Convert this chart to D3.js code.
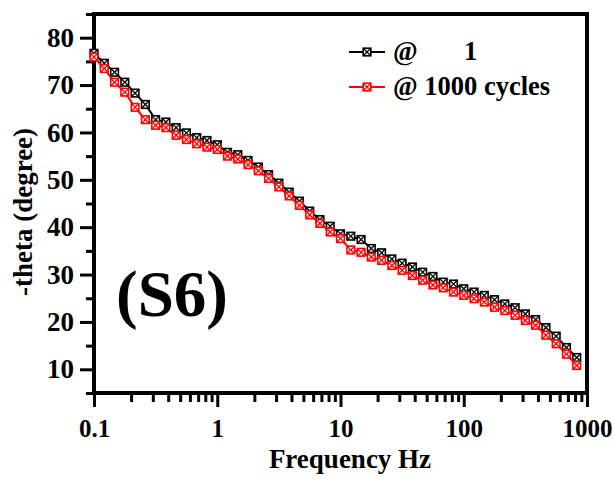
<!DOCTYPE html>
<html>
<head>
<meta charset="utf-8">
<script src="https://cdn.jsdelivr.net/npm/d3@7"></script>
<style>
  body { margin: 0; background: #fff; }
  text { font-family: "Liberation Serif", "Times New Roman", serif; font-weight: bold; }
</style>
</head>
<body>
<svg width="614" height="481"></svg>
<script>
// frequency (Hz), measured points
const frequency = [0.1, 0.1212, 0.1468, 0.1778, 0.2154, 0.261, 0.3162, 0.3831, 0.4642, 0.5623, 0.6813, 0.8254,
    1, 1.212, 1.468, 1.778, 2.154, 2.61, 3.162, 3.831, 4.642, 5.623, 6.813, 8.254,
    10, 12.12, 14.68, 17.78, 21.54, 26.1, 31.62, 38.31, 46.42, 56.23, 68.13, 82.54,
    100, 121.2, 146.8, 177.8, 215.4, 261, 316.2, 383.1, 464.2, 562.3, 681.3, 825.4]

// -theta at cycle 1
const theta1 = [76.7, 74.6, 72.7, 70.6, 68.3, 65.9, 62.7, 62.2, 61.0, 59.9, 58.9, 58.3,
    57.4, 55.8, 55.3, 54.1, 52.7, 51.1, 49.3, 47.4, 45.5, 43.4, 41.6, 40.2,
    38.6, 38.1, 37.4, 35.5, 34.6, 33.3, 32.4, 31.6, 30.5, 29.6, 28.4, 28.0,
    27.0, 26.3, 25.6, 24.7, 23.8, 23.0, 21.7, 20.5, 18.8, 17.0, 14.6, 12.5]

// -theta at cycle 1000
const theta1000 = [75.9, 73.5, 70.6, 68.5, 65.3, 62.7, 61.5, 61.0, 59.4, 58.5, 57.6, 56.9,
    56.4, 55.0, 54.4, 53.2, 51.9, 50.3, 48.5, 46.6, 44.6, 42.6, 40.8, 39.0,
    37.6, 35.2, 34.7, 33.7, 33.0, 31.9, 30.9, 29.8, 28.8, 27.8, 27.2, 26.3,
    25.6, 24.9, 24.2, 23.1, 22.4, 21.4, 20.3, 19.3, 17.2, 15.4, 13.2, 10.8]

const xMajor = [0.1, 1, 10, 100, 1000]
const xMajorLabels = ["0.1", "1", "10", "100", "1000"]
const yMajor = [10, 20, 30, 40, 50, 60, 70, 80]
const yMinor = [5, 15, 25, 35, 45, 55, 65, 75, 85]

const series = [
    { name: "@       1", values: theta1, color: "#000000" },
    { name: "@ 1000 cycles", values: theta1000, color: "#ff0000" }
]

const svg = d3.select('svg')
const plotLeft = 94, plotRight = 587, plotTop = 14, plotBottom = 393

const x = d3.scaleLog().domain([0.1, 1000]).range([plotLeft, plotRight])
const y = d3.scaleLinear().domain([5, 85]).range([plotBottom, plotTop])

// minor ticks for log axis: 2..9 of each decade
let xMinor = []
x.ticks().forEach(t => { if (!xMajor.some(m => Math.abs(m - t) < 1e-9)) xMinor.push(t) })

// x axis
svg.append('g')
    .attr('transform', `translate(0,${plotBottom})`)
    .call(d3.axisBottom(x).tickValues(xMinor).tickSize(9).tickFormat(''))
    .call(g => g.select('.domain').remove())
svg.append('g')
    .attr('class', 'xmajor')
    .attr('transform', `translate(0,${plotBottom})`)
    .call(d3.axisBottom(x).tickValues(xMajor).tickSize(14).tickPadding(12)
        .tickFormat((d, i) => xMajorLabels[i]))
    .call(g => g.select('.domain').remove())

// y axis
svg.append('g')
    .attr('transform', `translate(${plotLeft},0)`)
    .call(d3.axisLeft(y).tickValues(yMinor).tickSize(8).tickFormat(''))
    .call(g => g.select('.domain').remove())
svg.append('g')
    .attr('class', 'ymajor')
    .attr('transform', `translate(${plotLeft},0)`)
    .call(d3.axisLeft(y).tickValues(yMajor).tickSize(14).tickPadding(6))
    .call(g => g.select('.domain').remove())

svg.selectAll('.tick line').attr('stroke', '#000').attr('stroke-width', 3)
svg.selectAll('.tick text')
    .attr('fill', '#000')
    .style('font-family', '"Liberation Serif", serif')
    .style('font-weight', 'bold')
svg.selectAll('.xmajor .tick text').style('font-size', '25px')
svg.selectAll('.ymajor .tick text').style('font-size', '27px')

// frame
svg.append('rect')
    .attr('x', plotLeft).attr('y', plotTop)
    .attr('width', plotRight - plotLeft).attr('height', plotBottom - plotTop)
    .attr('fill', 'none')
    .attr('stroke', '#000')
    .attr('stroke-width', 4)

const line = d3.line()
    .x((d, i) => x(frequency[i]))
    .y(d => y(d))

// square marker with a cross inside
function marker(g, color) {
    const s = 3.8
    g.append('rect')
        .attr('x', -s).attr('y', -s).attr('width', 2 * s).attr('height', 2 * s)
        .attr('fill', '#fff').attr('stroke', color).attr('stroke-width', 1.6)
    g.append('path')
        .attr('d', `M${-s},${-s}L${s},${s}M${s},${-s}L${-s},${s}`)
        .attr('stroke', color).attr('stroke-width', 1.3)
}

series.forEach(s => {
    svg.append('path')
        .datum(s.values)
        .attr('d', line)
        .attr('fill', 'none')
        .attr('stroke', s.color)
        .attr('stroke-width', 2)

    svg.append('g')
        .selectAll('g')
        .data(s.values)
        .enter()
        .append('g')
        .attr('transform', (d, i) => `translate(${x(frequency[i])},${y(d)})`)
        .each(function () { marker(d3.select(this), s.color) })
})

// legend
const legend = svg.append('g').attr('transform', 'translate(349,52)')
series.forEach((s, i) => {
    const row = legend.append('g').attr('transform', `translate(0,${i * 35})`)
    row.append('line')
        .attr('x1', 0).attr('x2', 36)
        .attr('stroke', s.color).attr('stroke-width', 2)
    marker(row.append('g').attr('transform', 'translate(18,0)'), s.color)
    row.append('text')
        .attr('x', 44).attr('y', 8)
        .style('font-size', '26.5px')
        .style('white-space', 'pre')
        .text(s.name)
})

// panel label
svg.append('text')
    .attr('x', 116).attr('y', 316)
    .style('font-size', '65px')
    .text('(S6)')

// axis titles
svg.append('text')
    .attr('x', 350).attr('y', 468)
    .attr('text-anchor', 'middle')
    .style('font-size', '27px')
    .text('Frequency Hz')

svg.append('text')
    .attr('transform', 'translate(32,212) rotate(-90)')
    .attr('text-anchor', 'middle')
    .style('font-size', '27px')
    .text('-theta (degree)')
</script>
</body>
</html>
